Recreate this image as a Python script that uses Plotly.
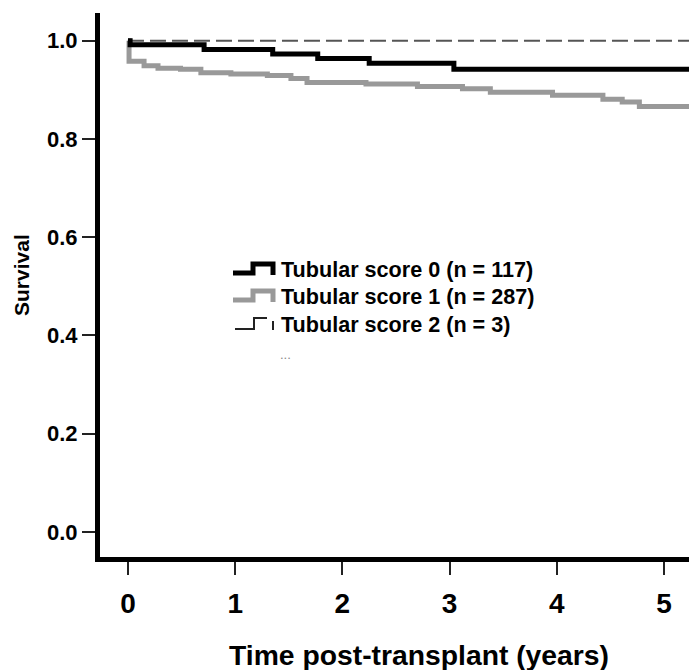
import plotly.graph_objects as go

# ---- data ----
score0_t = [0.0, 0.02, 0.71, 1.35, 1.77, 2.25, 3.04, 5.4]
score0_s = [1.0, 0.992, 0.982, 0.973, 0.964, 0.954, 0.942, 0.942]

score1_t = [0.0, 0.01, 0.15, 0.28, 0.49, 0.68, 0.96, 1.30, 1.52, 1.67, 2.22, 2.70,
            3.12, 3.38, 3.96, 4.43, 4.61, 4.77, 5.4]
score1_s = [1.0, 0.958, 0.949, 0.944, 0.942, 0.935, 0.932, 0.929, 0.923, 0.915, 0.912,
            0.907, 0.902, 0.895, 0.889, 0.881, 0.875, 0.866, 0.866]

score2_t = [0.0, 5.4]
score2_s = [1.0, 1.0]

series_names = ["Tubular score 0 (n = 117)", "Tubular score 1 (n = 287)",
                "Tubular score 2 (n = 3)"]
x_ticks = [0, 1, 2, 3, 4, 5]
y_ticks = [0.0, 0.2, 0.4, 0.6, 0.8, 1.0]
y_ticklabels = ["0.0", "0.2", "0.4", "0.6", "0.8", "1.0"]

FONT = "Liberation Sans, Arial, sans-serif"
W, H = 689, 670
L, R, T, B = 100, 0, 13, 113
PW, PH = W - L - R, H - T - B


def px(xp):
    return (xp - L) / PW


def py(yp):
    return (H - B - yp) / PH


fig = go.Figure()
fig.add_trace(go.Scatter(x=score2_t, y=score2_s, mode="lines", name=series_names[2],
                         line=dict(color="#555555", width=2, dash="16px,6px"),
                         showlegend=False))
fig.add_trace(go.Scatter(x=score1_t, y=score1_s, mode="lines", name=series_names[1],
                         line=dict(color="#999999", width=5, shape="hv"),
                         showlegend=False))
fig.add_trace(go.Scatter(x=score0_t, y=score0_s, mode="lines", name=series_names[0],
                         line=dict(color="#000000", width=5, shape="hv"),
                         showlegend=False))

# ---- hand-drawn legend (step-shaped icons like the original) ----
icons = [
    ([(233, 273), (253, 273), (253, 264), (273, 264), (273, 275)], "#000000", 5),
    ([(233, 300), (253, 300), (253, 291), (273, 291), (273, 302)], "#999999", 5),
    ([(235, 329), (254, 329), (254, 318), (267, 318)], "#222222", 2),
]
shapes = []
for pts, col, w in icons:
    path = "M " + " L ".join(f"{px(a):.5f},{py(b):.5f}" for a, b in pts)
    shapes.append(dict(type="path", xref="paper", yref="paper", path=path,
                       line=dict(color=col, width=w)))
shapes.append(dict(type="line", xref="paper", yref="paper",
                   x0=px(273), x1=px(273), y0=py(321), y1=py(330),
                   line=dict(color="#222222", width=2)))

annotations = []
for name, yc in zip(series_names, [269.5, 296.5, 324.5]):
    annotations.append(dict(text=name, xref="paper", yref="paper", x=px(279), y=py(yc),
                            xanchor="left", yanchor="middle", showarrow=False,
                            font=dict(family=FONT, size=21.6, color="#000000", weight="bold")))
annotations.append(dict(text="...", xref="paper", yref="paper", x=px(285), y=py(354),
                        xanchor="center", yanchor="middle", showarrow=False,
                        font=dict(family=FONT, size=13, color="#888888")))
annotations.append(dict(text="Survival", xref="paper", yref="paper", x=px(21), y=py(275),
                        xanchor="center", yanchor="middle", textangle=-90, showarrow=False,
                        font=dict(family=FONT, size=21, color="#000000", weight="bold")))
annotations.append(dict(text="Time post-transplant (years)", xref="paper", yref="paper",
                        x=px(419), y=py(655), xanchor="center", yanchor="middle",
                        showarrow=False,
                        font=dict(family=FONT, size=28.3, color="#000000", weight="bold")))

fig.update_layout(
    width=W, height=H,
    margin=dict(l=L, r=R, t=T, b=B, pad=0),
    paper_bgcolor="white", plot_bgcolor="white",
    shapes=shapes, annotations=annotations,
    showlegend=False,
)
fig.update_xaxes(range=[-0.261, 5.233], tickvals=x_ticks, ticktext=[str(v) for v in x_ticks],
                 showgrid=False, zeroline=False, showline=True, linecolor="black",
                 linewidth=5, ticks="outside", ticklen=13, tickwidth=2, tickcolor="#222222",
                 ticklabelstandoff=4,
                 tickfont=dict(family=FONT, size=28, color="black", weight="bold"))
fig.update_yaxes(range=[-0.0509, 1.0564], tickvals=y_ticks, ticktext=y_ticklabels,
                 showgrid=False, zeroline=False, showline=True, linecolor="black",
                 linewidth=5, ticks="outside", ticklen=13, tickwidth=2, tickcolor="#222222",
                 tickfont=dict(family=FONT, size=22, color="black", weight="bold"))

fig.write_html("out.html")
